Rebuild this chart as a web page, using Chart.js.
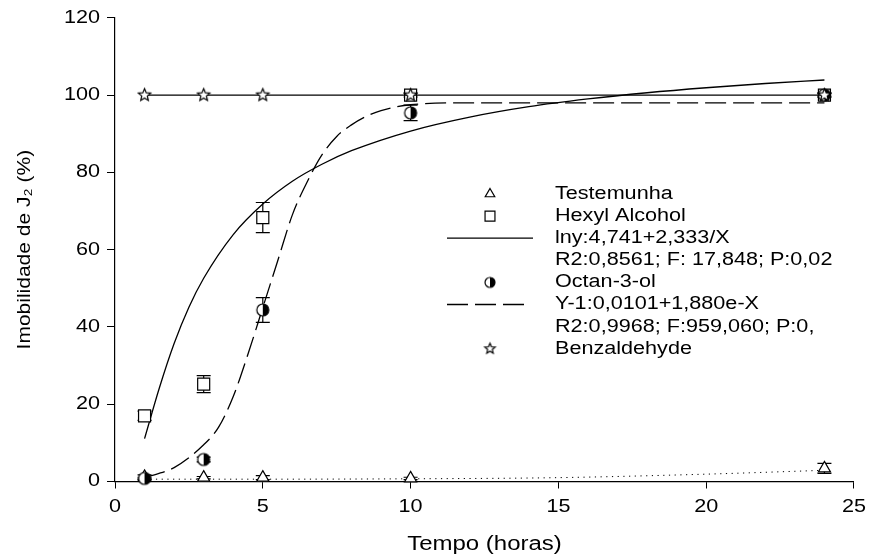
<!DOCTYPE html>
<html>
<head>
<meta charset="UTF-8">
<title>Imobilidade de J2</title>
<script src="https://cdn.jsdelivr.net/npm/chart.js@4.4.0/dist/chart.umd.min.js"></script>
<style>body{margin:0;background:#fff}</style>
</head>
<body>
<canvas id="myChart" width="872" height="560"></canvas>

<script>
	// observed points (horas)
	const tempo = [1, 3, 5, 10, 24];
	const testemunha = [1.2, 1.0, 1.0, 0.8, 3.4];
	const testemunhaErr = [0.5, 0.3, 0.5, 0.3, 1.3];
	const hexyl = [17, 25.2, 68.3, 100, 100];
	const hexylErr = [1.2, 2.2, 3.9, 0.5, 0.5];
	const octan = [0.8, 5.7, 44.4, 95.4, 100];
	const octanErr = [0.3, 0.6, 3.2, 2.0, 0.5];
	const benz = [100, 100, 100, 100, 100];

	// fitted curves
	const hexylFitX = [1, 1.5, 2, 2.5, 3, 4, 5, 6, 7, 8, 10, 12, 14, 16, 18, 20, 22, 24];
	const hexylFitY = [11.1, 24.2, 35.7, 45.1, 52.6, 63.9, 71.8, 77.7, 82.1, 85.6, 90.7, 94.3, 97.0, 99.0, 100.6, 101.9, 103.0, 103.9];
	const octanFitX = [1, 2, 3, 3.5, 4, 4.5, 5, 5.5, 6, 6.5, 7, 7.5, 8, 8.5, 9, 10, 12, 16, 20, 24];
	const octanFitY = [1.0, 3.6, 9.5, 14, 22, 33, 45, 57, 69, 77.5, 84.5, 89.3, 92.3, 94.5, 96, 97.5, 98, 98, 98, 98];
	const testFitX = [1, 5, 10, 15, 20, 24];
	const testFitY = [0.6, 0.6, 0.7, 1.0, 1.9, 2.9];

	const xTicks = [0, 5, 10, 15, 20, 25];
	const yTicks = [0, 20, 40, 60, 80, 100, 120];

	const pts = (xs, ys) => xs.map((x, i) => ({x: x, y: ys[i]}));

	const canvas = document.getElementById('myChart');
	const ctx = canvas.getContext('2d');

	// the figure's lettering is set about 20% wider than plain Arial
	const WIDE = 1.2;
	ctx.fillText = function (t, x, y) {
		this.save();
		this.translate(x, y);
		this.scale(WIDE, 1);
		CanvasRenderingContext2D.prototype.fillText.call(this, t, 0, 0);
		this.restore();
	};

	function halfCircle(r) {
		const c = document.createElement('canvas');
		c.width = c.height = 2 * r + 4;
		const g = c.getContext('2d');
		const m = r + 2;
		g.fillStyle = '#fff';
		g.beginPath(); g.arc(m, m, r, 0, 2 * Math.PI); g.fill();
		g.fillStyle = '#000';
		g.beginPath(); g.arc(m, m, r, -Math.PI / 2, Math.PI / 2); g.fill();
		g.lineWidth = 1.2; g.strokeStyle = '#000';
		g.beginPath(); g.arc(m, m, r, 0, 2 * Math.PI); g.stroke();
		return c;
	}

	function star(r) {
		const c = document.createElement('canvas');
		c.width = c.height = 2 * r + 4;
		const g = c.getContext('2d');
		const m = r + 2;
		g.beginPath();
		for (let i = 0; i < 10; i++) {
			const a = -Math.PI / 2 + i * Math.PI / 5;
			const rr = i % 2 ? r * 0.45 : r;
			g.lineTo(m + rr * Math.cos(a), m + rr * Math.sin(a));
		}
		g.closePath();
		g.fillStyle = '#fff'; g.fill();
		g.lineWidth = 1.2; g.strokeStyle = '#000'; g.stroke();
		return c;
	}

	const halfImg = halfCircle(6);
	const starImg = star(6.5);
	const halfSmall = halfCircle(5);
	const starSmall = star(5.5);

	const errorBars = {
		id: 'errorBars',
		beforeDatasetsDraw(chart) {
			const c = chart.ctx, xs = chart.scales.x, ys = chart.scales.y;
			c.save();
			c.strokeStyle = '#000';
			c.lineWidth = 1.2;
			chart.data.datasets.forEach(ds => {
				if (!ds.err) return;
				ds.data.forEach((p, i) => {
					const e = ds.err[i];
					if (!e) return;
					const x = xs.getPixelForValue(p.x);
					const y1 = ys.getPixelForValue(p.y + e);
					const y2 = ys.getPixelForValue(p.y - e);
					c.beginPath();
					c.moveTo(x, y1); c.lineTo(x, y2);
					c.moveTo(x - 7, y1); c.lineTo(x + 7, y1);
					c.moveTo(x - 7, y2); c.lineTo(x + 7, y2);
					c.stroke();
				});
			});
			c.restore();
		}
	};

	const legendRows = [
		{sym: 'triangle', r: 5.5, text: 'Testemunha'},
		{sym: 'rect', r: 7, text: 'Hexyl Alcohol'},
		{dash: [], end: 533, text: 'lny:4,741+2,333/X'},
		{text: 'R2:0,8561; F: 17,848; P:0,02'},
		{sym: halfSmall, text: 'Octan-3-ol'},
		{dash: [21, 7], end: 527, text: 'Y-1:0,0101+1,880e-X'},
		{text: 'R2:0,9968; F:959,060; P:0,'},
		{sym: starSmall, text: 'Benzaldehyde'}
	];

	const boxLegend = {
		id: 'boxLegend',
		afterDraw(chart) {
			const c = chart.ctx;
			c.save();
			c.font = "18px 'Liberation Sans', Arial, sans-serif";
			c.textBaseline = 'middle';
			c.textAlign = 'left';
			legendRows.forEach((row, i) => {
				const y = 194 + i * 22.1;
				c.fillStyle = '#000';
				c.fillText(row.text, 555, y);
				if (row.dash) {
					c.strokeStyle = '#000';
					c.lineWidth = 1.3;
					c.setLineDash(row.dash);
					c.beginPath(); c.moveTo(447, y); c.lineTo(row.end, y); c.stroke();
					c.setLineDash([]);
				} else if (row.sym) {
					c.fillStyle = '#fff';
					c.strokeStyle = '#000';
					c.lineWidth = 1.2;
					Chart.helpers.drawPoint(c, {pointStyle: row.sym, radius: row.r || 5, borderWidth: 1.2, rotation: 0}, 490, y);
				}
			});
			c.restore();
		}
	};

	Chart.defaults.font.family = "'Liberation Sans', Arial, sans-serif";
	Chart.defaults.font.size = 18;
	Chart.defaults.color = '#000';

	new Chart(ctx, {
		type: 'scatter',
		data: {
			datasets: [{
				label: 'Benzaldehyde',
				data: pts(tempo, benz),
				pointStyle: starImg,
				pointRadius: 6,
				showLine: true,
				borderColor: '#000',
				borderWidth: 1.3,
				clip: false,
				order: 0
			}, {
				label: 'Octan-3-ol',
				data: pts(tempo, octan),
				err: octanErr,
				pointStyle: halfImg,
				pointRadius: 6,
				borderColor: '#000',
				clip: false,
				order: 0
			}, {
				label: 'Hexyl Alcohol',
				data: pts(tempo, hexyl),
				err: hexylErr,
				pointStyle: 'rect',
				pointRadius: 8.5,
				pointBackgroundColor: '#fff',
				pointBorderColor: '#000',
				pointBorderWidth: 1.2,
				clip: false,
				order: 0
			}, {
				label: 'Testemunha',
				data: pts(tempo, testemunha),
				err: testemunhaErr,
				pointStyle: 'triangle',
				pointRadius: 7,
				pointBackgroundColor: '#fff',
				pointBorderColor: '#000',
				pointBorderWidth: 1.2,
				clip: false,
				order: 0
			}, {
				label: 'hexyl fit',
				data: pts(hexylFitX, hexylFitY),
				showLine: true,
				pointRadius: 0,
				borderColor: '#000',
				borderWidth: 1.3,
				cubicInterpolationMode: 'monotone',
				order: 1
			}, {
				label: 'octan fit',
				data: pts(octanFitX, octanFitY),
				showLine: true,
				pointRadius: 0,
				borderColor: '#000',
				borderWidth: 1.3,
				borderDash: [21, 7],
				cubicInterpolationMode: 'monotone',
				order: 1
			}, {
				label: 'testemunha fit',
				data: pts(testFitX, testFitY),
				showLine: true,
				pointRadius: 0,
				borderColor: '#000',
				borderWidth: 1,
				borderDash: [1.2, 4.5],
				cubicInterpolationMode: 'monotone',
				clip: false,
				order: 1
			}]
		},
		options: {
			responsive: false,
			animation: false,
			layout: {padding: {top: 17.5, right: 13, left: 0, bottom: 0}},
			plugins: {legend: {display: false}, tooltip: {enabled: false}},
			scales: {
				x: {
					type: 'linear',
					min: 0, max: 25,
					afterFit: s => { s.height = 78.5; },
					afterBuildTicks: s => { s.ticks = xTicks.map(v => ({value: v})); },
					grid: {drawOnChartArea: false, drawTicks: true, tickLength: 7, color: '#000'},
					border: {color: '#000', width: 1.2},
					ticks: {padding: 8, maxRotation: 0},
					title: {display: true, text: 'Tempo (horas)', font: {size: 20}, padding: {top: 0, bottom: 4}}
				},
				y: {
					min: 0, max: 120,
					afterFit: s => { s.width = 115; },
					afterBuildTicks: s => { s.ticks = yTicks.map(v => ({value: v})); },
					grid: {drawOnChartArea: false, drawTicks: true, tickLength: 8, color: '#000'},
					border: {color: '#000', width: 1.2},
					ticks: {padding: 7},
					title: {display: true, text: 'Imobilidade de J₂ (%)', font: {size: 17.5}, padding: {top: 15, bottom: 0}}
				}
			}
		},
		plugins: [errorBars, boxLegend]
	});
</script>
</body>
</html>
